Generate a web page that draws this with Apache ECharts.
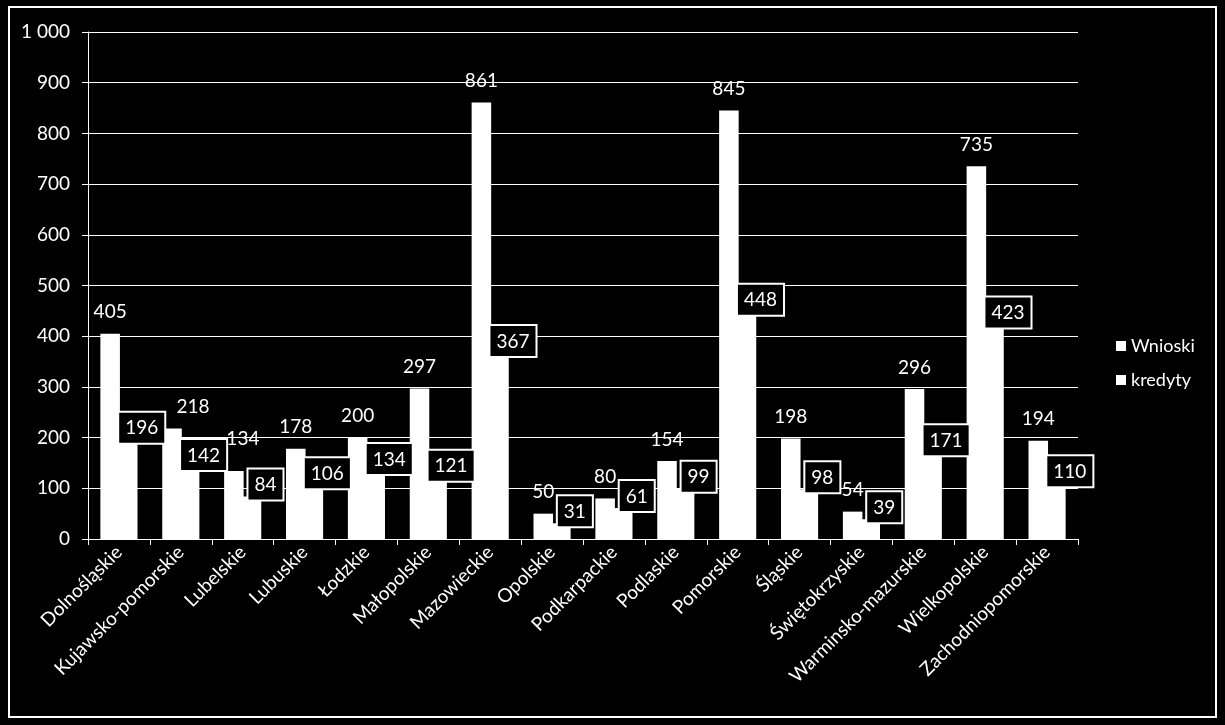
<!DOCTYPE html>
<html lang="pl">
<head>
	<meta charset="UTF-8">
	<title>Wnioski i kredyty</title>
	<style>
		html,body{margin:0;padding:0;background:#000;}
		#chart{width:1225px;height:725px;}
	</style>
</head>
<body>
	<div id="chart"></div>
	<script src="https://cdn.jsdelivr.net/npm/echarts@6/dist/echarts.min.js"></script>
	<script>
		// województwa
		var categories = ["Dolnośląskie","Kujawsko-pomorskie","Lubelskie","Lubuskie","Łodzkie","Małopolskie","Mazowieckie","Opolskie","Podkarpackie","Podlaskie","Pomorskie","Śląskie","Świętokrzyskie","Warminsko-mazurskie","Wielkopolskie","Zachodniopomorskie"];
		var wnioski = [405,218,134,178,200,297,861,50,80,154,845,198,54,296,735,194];
		var kredyty = [196,142,84,106,134,121,367,31,61,99,448,98,39,171,423,110];
		var seriesNames = ["Wnioski","kredyty"];

		var font = "Lato, 'Open Sans', sans-serif";
		var fs = 19;

		// ręcznie przesunięte etykiety (jak w oryginale)
		var nudge = {1:[21,0], 2:[9,-11]};

		var wData = wnioski.map(function(v, i){
			var item = {value: v};
			if (nudge[i]) item.label = {offset: nudge[i]};
			return item;
		});

		var chart = echarts.init(document.getElementById('chart'));
		var option = {
			backgroundColor: '#000',
			animation: false,
			textStyle: {fontFamily: font},
			graphic: [{
				type: 'rect',
				shape: {x: 9, y: 7, width: 1207, height: 710},
				style: {fill: 'none', stroke: '#fff', lineWidth: 2},
				silent: true
			}],
			legend: {
				data: seriesNames,
				orient: 'vertical',
				left: 1111,
				top: 332,
				itemWidth: 10,
				itemHeight: 10,
				itemGap: 16,
				icon: 'rect',
				textStyle: {color: '#fff', fontSize: 18, fontFamily: font}
			},
			grid: {left: 88, right: 147, top: 32, bottom: 186},
			xAxis: {
				type: 'category',
				data: categories,
				axisLine: {lineStyle: {color: '#fff', width: 1}},
				axisTick: {show: true, length: 6, lineStyle: {color: '#fff'}},
				axisLabel: {color: '#fff', fontSize: fs, rotate: 45, interval: 0, margin: 10, fontFamily: font}
			},
			yAxis: {
				type: 'value',
				min: 0,
				max: 1000,
				interval: 100,
				axisLine: {show: true, lineStyle: {color: '#fff', width: 1}},
				axisTick: {show: true, length: 6, lineStyle: {color: '#fff'}},
				splitLine: {lineStyle: {color: '#fff', width: 1}},
				axisLabel: {
					color: '#fff', fontSize: fs, margin: 18, fontFamily: font,
					formatter: function(v){ return String(v).replace(/\B(?=(\d{3})+(?!\d))/g, ' '); }
				}
			},
			series: [
				{
					name: seriesNames[0],
					type: 'bar',
					data: wData,
					barGap: '-10%',
					barCategoryGap: '40%',
					itemStyle: {color: '#fff'},
					label: {show: true, position: 'top', distance: 12, color: '#fff', fontSize: fs, fontFamily: font}
				},
				{
					name: seriesNames[1],
					type: 'bar',
					data: kredyty,
					barGap: '-10%',
					barCategoryGap: '40%',
					itemStyle: {color: '#fff'},
					label: {
						show: true, position: 'top', distance: 0, offset: [14, 3],
						color: '#fff', fontSize: fs, fontFamily: font,
						backgroundColor: '#000', borderColor: '#fff', borderWidth: 2,
						padding: [6, 6, 5, 6]
					}
				}
			]
		};
		chart.setOption(option);
	</script>
</body>
</html>
